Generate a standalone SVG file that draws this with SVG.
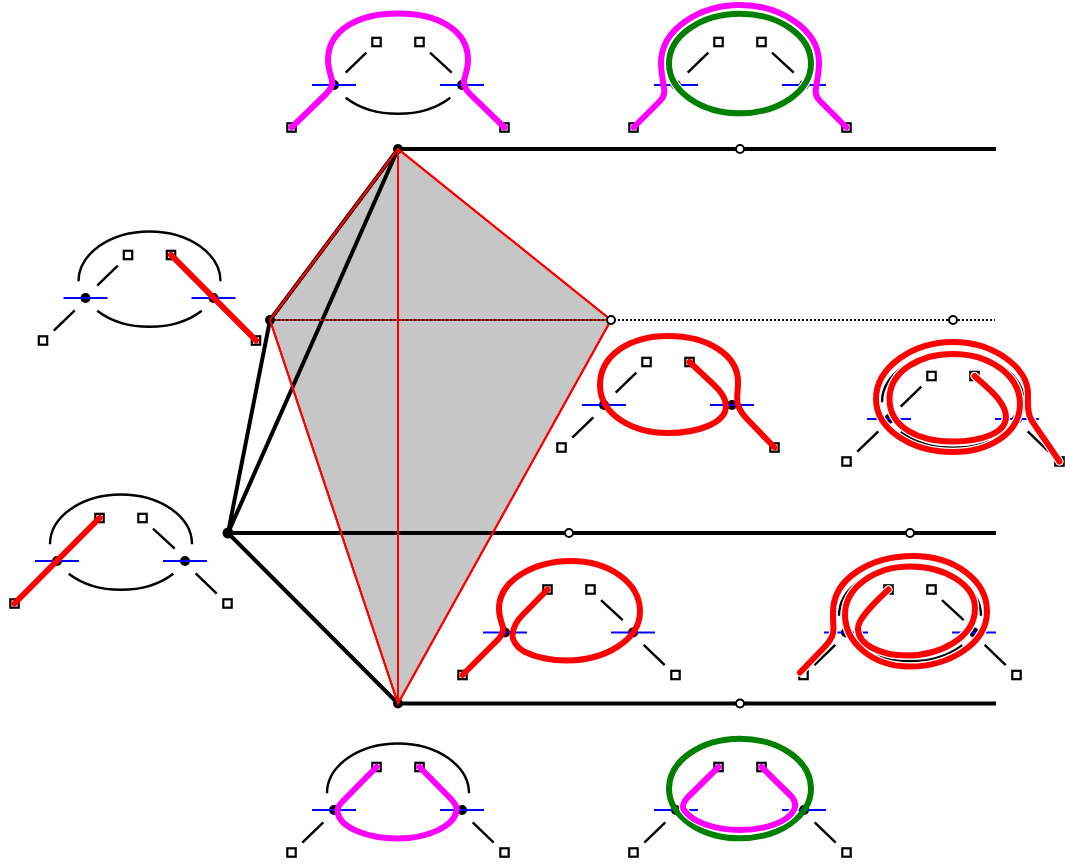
<svg xmlns="http://www.w3.org/2000/svg" width="1065" height="865" viewBox="0 0 1065 865">
<style>
.k{fill:none;stroke:#000;stroke-width:2.4}
.b{fill:none;stroke:#00f;stroke-width:2}
.sq{fill:#fff;stroke:#000;stroke-width:2.2}
.h{fill:none;stroke:#fff;stroke-width:8.5;stroke-linecap:round}
.red{fill:none;stroke:#f00;stroke-width:6;stroke-linecap:round;stroke-linejoin:round}
.mag{fill:none;stroke:#f0f;stroke-width:6;stroke-linecap:round;stroke-linejoin:round}
.grn{fill:none;stroke:#008000;stroke-width:6}
.thick{fill:none;stroke:#000;stroke-width:4}
.rl{fill:none;stroke:#f00;stroke-width:2}
.dot{fill:none;stroke:#000;stroke-width:2;stroke-dasharray:2 2}
.v{fill:#000}
.o{fill:#fff;stroke:#000;stroke-width:2}
</style>
<defs>
<g id="sqs">
<rect class="sq" x="-25.7" y="-47.2" width="8.4" height="8.4"/>
<rect class="sq" x="17.3" y="-47.2" width="8.4" height="8.4"/>
<rect class="sq" x="-110.7" y="38.3" width="8.4" height="8.4"/>
<rect class="sq" x="102.3" y="38.3" width="8.4" height="8.4"/>
</g>
<g id="xs">
<circle class="v" cx="-64" cy="0" r="5"/>
<circle class="v" cx="64" cy="0" r="5"/>
<path class="b" d="M-86,0H-42M42,0H86"/>
</g>
<path id="tl" class="k" d="M-52.3,-12.3L-31.7,-32.3"/>
<path id="tr" class="k" d="M32,-32.3L53.7,-12.3"/>
<path id="ll" class="k" d="M-74.7,12.3L-95.7,32.7"/>
<path id="lr" class="k" d="M74.7,12.3L95.7,32.7"/>
<path id="at" class="k" d="M-71,-16.7A71,49.8 0 0 1 71,-16.7"/>
<path id="ab" class="k" d="M-52.3,12.7A71,49.8 0 0 0 52.3,12.7"/>
</defs>

<g id="connectors">
<polygon points="398,149 611,320 398,703.5 270,320" fill="#c6c6c6"/>
<path class="thick" d="M398,149H996M228,533H996M398,703.5H996M228,533L398,149M228,533L270,320M228,533L398,703.5M398,149L270,320"/>
<path class="rl" d="M398,149L270,320L398,703.5L611,320ZM398,149V703.5M270,320H611"/>
<path class="dot" d="M270,320H995"/>
</g>
<g id="vertices">
<circle class="v" cx="398" cy="149" r="5"/>
<circle class="v" cx="270" cy="320" r="5"/>
<circle class="v" cx="228" cy="533" r="5.5"/>
<circle class="v" cx="398" cy="703.5" r="5"/>
<path class="rl" d="M270,320L398,149L611,320M270,320L398,703.5L611,320M398,149V703.5"/>
<circle class="o" cx="740" cy="149" r="4"/>
<circle class="o" cx="611" cy="320" r="4"/>
<circle class="o" cx="953" cy="320" r="4"/>
<circle class="o" cx="569" cy="533" r="4"/>
<circle class="o" cx="910" cy="533" r="4"/>
<circle class="o" cx="740" cy="703.5" r="4"/>
</g>

<g id="top1" transform="translate(398,85)">
<use href="#sqs"/><use href="#xs"/><use href="#tl"/><use href="#tr"/><use href="#ab"/>
<path class="mag" d="M-106.5,42.5L-72,9C-67,4 -65,0 -66,-5C-68,-12 -70,-17 -70,-25C-70,-55 -40,-71.5 0,-71.5C40,-71.5 70,-55 70,-25C70,-17 68,-12 66,-5C65,0 67,4 72,9L106.5,42.5"/>
</g>
<g id="top2" transform="translate(740,85)">
<use href="#sqs"/><use href="#xs"/><use href="#tl"/><use href="#tr"/>
<path class="mag" d="M-106.5,42.5L-80,16C-76,12 -75,8 -76,3C-77,-3 -79,-14 -79,-22C-79,-56 -40,-80 0,-80C40,-80 79,-56 79,-22C79,-14 77,-3 76,3C75,8 76,12 80,16L106.5,42.5"/>
<ellipse class="h" cx="0" cy="-21.5" rx="71" ry="49.8" stroke-width="8.5"/>
<ellipse class="grn" cx="0" cy="-21.5" rx="71" ry="49.8"/>
</g>
<g id="left1" transform="translate(149.5,298)">
<use href="#sqs"/><use href="#xs"/><use href="#tl"/><use href="#ll"/><use href="#at"/><use href="#ab"/>
<path class="red" d="M21.5,-43L106.5,42.5"/>
</g>
<g id="left2" transform="translate(121,561)">
<use href="#sqs"/><use href="#xs"/><use href="#tr"/><use href="#lr"/><use href="#at"/><use href="#ab"/>
<path class="red" d="M-21.5,-43L-106.5,42.5"/>
</g>
<g id="right1" transform="translate(668,405)">
<use href="#sqs"/><use href="#xs"/><use href="#tl"/><use href="#ll"/>
<path class="red" d="M21.5,-43L45,-21C55,-12 58,-5 58,1C58,18 30,28 0,28C-35,28 -68,10 -68,-20C-68,-50 -38,-69 0,-69C40,-69 70,-50 70,-23C70,-12 68,-5 70,0C72,6 74,9 80,15L106.5,42.5"/>
</g>
<g id="right2" transform="translate(953,419)">
<use href="#sqs"/><use href="#xs"/><use href="#tl"/><use href="#ll"/><use href="#lr"/><use href="#at"/><use href="#ab"/>
<path class="h" d="M21.5,-43C32,-33 53,-18 53,-2C53,14 28,22.5 0,22.5C-35,22.5 -63.5,8 -63.5,-20C-63.5,-48 -33,-65 0,-65C35,-65 67,-45 67,-15C67,15 35,33 0,33C-42,33 -77,10 -77,-20C-77,-52 -40,-77 0,-77C40,-77 75,-52 75,-25C75,-15 74,-7 78,0C81,6 87,13 106.5,42.5"/>
<path class="red" d="M21.5,-43C32,-33 53,-18 53,-2C53,14 28,22.5 0,22.5C-35,22.5 -63.5,8 -63.5,-20C-63.5,-48 -33,-65 0,-65C35,-65 67,-45 67,-15C67,15 35,33 0,33C-42,33 -77,10 -77,-20C-77,-52 -40,-77 0,-77C40,-77 75,-52 75,-25C75,-15 74,-7 78,0C81,6 87,13 106.5,42.5"/>
</g>
<g id="mid1" transform="translate(569,632.5)">
<use href="#sqs"/><use href="#xs"/><use href="#tr"/><use href="#lr"/>
<path class="red" d="M-106.5,42.5L-75,11C-68,5 -65,0 -66,-5C-68,-12 -70,-16 -70,-24C-70,-52 -35,-71.5 2,-71.5C40,-71.5 71,-50 71,-21C71,8 35,28 -2,28C-20,28 -35,24 -45,19C-52,15 -57,8 -56.5,2C-56,-4 -52,-12 -46,-18L-21.5,-43"/>
</g>
<g id="mid2" transform="translate(910,632.5)">
<use href="#sqs"/><use href="#xs"/><use href="#tr"/><use href="#ll"/><use href="#lr"/><use href="#at"/><use href="#ab"/>
<path class="h" d="M-110,40L-85,14C-79,8 -76,2 -76.5,-5C-77,-10 -77,-14 -77,-20C-77,-55 -38,-76.5 3,-76.5C45,-76.5 77,-52 77,-21C77,12 38,34 0,34C-38,34 -65,10 -65,-18C-65,-45 -35,-66 0,-66C35,-66 65,-48 65,-24C65,5 30,23 -3,23C-30,23 -52,12 -52,-4C-52,-12 -42,-24 -21.5,-43"/>
<path class="red" d="M-110,40L-85,14C-79,8 -76,2 -76.5,-5C-77,-10 -77,-14 -77,-20C-77,-55 -38,-76.5 3,-76.5C45,-76.5 77,-52 77,-21C77,12 38,34 0,34C-38,34 -65,10 -65,-18C-65,-45 -35,-66 0,-66C35,-66 65,-48 65,-24C65,5 30,23 -3,23C-30,23 -52,12 -52,-4C-52,-12 -42,-24 -21.5,-43"/>
</g>
<g id="bottom1" transform="translate(398,810)">
<use href="#sqs"/><use href="#xs"/><use href="#ll"/><use href="#lr"/><use href="#at"/>
<path class="mag" d="M-21.5,-43L-55,-9C-60,-4 -61,0 -60.5,2C-58,18 -30,28.5 0,28.5C30,28.5 56,16 58.5,1C59,-3 58,-5 54,-10L21.5,-43"/>
</g>
<g id="bottom2" transform="translate(740,810)">
<use href="#sqs"/><use href="#xs"/><use href="#ll"/><use href="#lr"/>
<ellipse class="grn" cx="0" cy="-21.5" rx="71" ry="49.8"/>
<path class="h" d="M-52,-13C-57,-8 -58,-3 -56,0C-48,12 -25,20 0,20C25,20 48,12 54,0C56,-4 55,-9 52,-13"/>
<path class="mag" d="M-21.5,-43L-52,-13C-57,-8 -58,-3 -56,0C-48,12 -25,20 0,20C25,20 48,12 54,0C56,-4 55,-9 52,-13L21.5,-43"/>
</g>
</svg>
